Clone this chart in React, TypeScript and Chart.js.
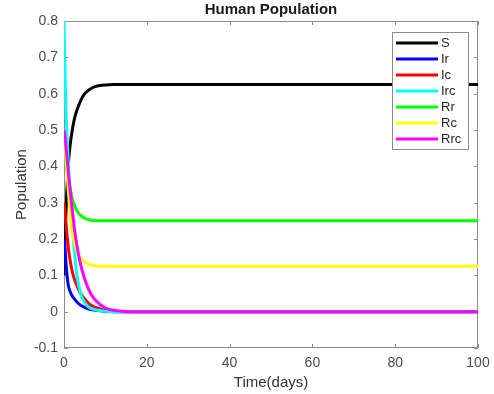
import React, { useEffect, useRef } from 'react';
import { Chart, registerables } from 'chart.js';
Chart.register(...registerables);

const days = [0, 0.25, 0.5, 1, 1.5, 2, 2.5, 3, 4, 5, 6, 7, 8, 10, 12, 14, 16, 20, 30, 40, 50, 60, 70, 80, 90, 100];
const S = [0.1, 0.2, 0.28, 0.4, 0.46, 0.5, 0.53, 0.55, 0.58, 0.6, 0.61, 0.617, 0.621, 0.624, 0.625, 0.625, 0.625, 0.625, 0.625, 0.625, 0.625, 0.625, 0.625, 0.625, 0.625, 0.625];
const Ir = [0.2, 0.17, 0.13, 0.075, 0.055, 0.043, 0.035, 0.028, 0.018, 0.012, 0.007, 0.005, 0.003, 0.001, 0, 0, 0, 0, 0, 0, 0, 0, 0, 0, 0, 0];
const Ic = [0.3, 0.27, 0.24, 0.18, 0.14, 0.11, 0.09, 0.075, 0.05, 0.035, 0.022, 0.015, 0.01, 0.004, 0.001, 0, 0, 0, 0, 0, 0, 0, 0, 0, 0, 0];
const Irc = [0.8, 0.65, 0.55, 0.42, 0.31, 0.23, 0.17, 0.11, 0.05, 0.025, 0.012, 0.007, 0.004, 0.001, 0, 0, 0, 0, 0, 0, 0, 0, 0, 0, 0, 0];
const Rr = [0.45, 0.42, 0.4, 0.37, 0.34, 0.31, 0.295, 0.28, 0.265, 0.257, 0.253, 0.251, 0.25, 0.25, 0.25, 0.25, 0.25, 0.25, 0.25, 0.25, 0.25, 0.25, 0.25, 0.25, 0.25, 0.25];
const Rc = [0.5, 0.46, 0.42, 0.34, 0.27, 0.22, 0.19, 0.17, 0.148, 0.137, 0.131, 0.128, 0.126, 0.125, 0.125, 0.125, 0.125, 0.125, 0.125, 0.125, 0.125, 0.125, 0.125, 0.125, 0.125, 0.125];
const Rrc = [0.5, 0.48, 0.45, 0.39, 0.33, 0.28, 0.23, 0.19, 0.13, 0.09, 0.06, 0.04, 0.027, 0.01, 0.004, 0.001, 0, 0, 0, 0, 0, 0, 0, 0, 0, 0];

const seriesNames = ['S', 'Ir', 'Ic', 'Irc', 'Rr', 'Rc', 'Rrc'];
const seriesValues = [S, Ir, Ic, Irc, Rr, Rc, Rrc];
const seriesColors = ['#000000', '#0000ff', '#ff0000', '#00ffff', '#00ff00', '#ffff00', '#ff00ff'];

const titleText = 'Human Population';
const xTitle = 'Time(days)';
const yTitle = 'Population';

const FONT = '"Liberation Sans", Arial, Helvetica, sans-serif';
const AXIS_COLOR = '#8c8c8c';

const framePlugin = {
  id: 'matlabFrame',
  beforeDatasetsDraw(chart: any) {
    const { ctx, chartArea: a, scales } = chart;
    ctx.save();
    ctx.strokeStyle = AXIS_COLOR;
    ctx.lineWidth = 1;
    ctx.strokeRect(a.left + 0.5, a.top + 0.5, a.right - a.left - 1, a.bottom - a.top - 1);
    const tl = 4;
    ctx.beginPath();
    scales.x.ticks.forEach((t: any) => {
      const px = Math.round(scales.x.getPixelForValue(t.value)) + 0.5;
      ctx.moveTo(px, a.bottom);
      ctx.lineTo(px, a.bottom - tl);
      ctx.moveTo(px, a.top);
      ctx.lineTo(px, a.top + tl);
    });
    scales.y.ticks.forEach((t: any) => {
      const py = Math.round(scales.y.getPixelForValue(t.value)) + 0.5;
      ctx.moveTo(a.left, py);
      ctx.lineTo(a.left + tl, py);
      ctx.moveTo(a.right, py);
      ctx.lineTo(a.right - tl, py);
    });
    ctx.stroke();
    ctx.restore();
  },
  afterDatasetsDraw(chart: any) {
    const { ctx, chartArea: a } = chart;
    ctx.save();
    ctx.fillStyle = '#1a1a1a';
    ctx.font = `bold 15px ${FONT}`;
    ctx.textAlign = 'center';
    ctx.textBaseline = 'middle';
    ctx.fillText(titleText, (a.left + a.right) / 2, 9.5);
    const ds = chart.data.datasets;
    const bx = 392, by = 32, bw = 76, bh = 117;
    ctx.fillStyle = '#ffffff';
    ctx.fillRect(bx, by, bw, bh);
    ctx.strokeStyle = AXIS_COLOR;
    ctx.lineWidth = 1;
    ctx.strokeRect(bx + 0.5, by + 0.5, bw, bh);
    ctx.font = `13px ${FONT}`;
    ctx.textAlign = 'left';
    ctx.textBaseline = 'middle';
    ds.forEach((d: any, i: number) => {
      const y = by + 11 + i * 16;
      ctx.strokeStyle = d.borderColor;
      ctx.lineWidth = 3;
      ctx.beginPath();
      ctx.moveTo(bx + 4, y);
      ctx.lineTo(bx + 46, y);
      ctx.stroke();
      ctx.fillStyle = '#262626';
      ctx.fillText(d.label, bx + 49, y + 0.5);
    });
    ctx.restore();
  },
};

export default function App() {
  const ref = useRef<HTMLCanvasElement>(null);
  useEffect(() => {
    if (!ref.current) return;
    const chart = new Chart(ref.current, {
      type: 'line',
      data: {
        datasets: seriesNames.map((name, i) => ({
          label: name,
          data: days.map((d, j) => ({ x: d, y: seriesValues[i][j] })),
          borderColor: seriesColors[i],
          backgroundColor: seriesColors[i],
          borderWidth: 3,
          pointRadius: 0,
          fill: false,
          cubicInterpolationMode: 'monotone' as const,
          order: seriesNames.length - i,
        })),
      },
      options: {
        animation: false,
        responsive: false,
        maintainAspectRatio: false,
        layout: { padding: { top: 21, right: 16, bottom: 0, left: 0 } },
        plugins: {
          legend: { display: false },
          title: { display: false },
          tooltip: { enabled: false },
        },
        scales: {
          x: {
            type: 'linear',
            min: 0,
            max: 100,
            grid: { display: false, drawTicks: false },
            border: { display: false },
            ticks: {
              stepSize: 20,
              padding: 7,
              color: '#4d4d4d',
              font: { family: FONT, size: 14 },
              maxRotation: 0,
            },
            title: {
              display: true,
              text: xTitle,
              color: '#333333',
              font: { family: FONT, size: 15 },
              padding: { top: 0, bottom: 2 },
            },
            afterFit: (s: any) => { s.height = 46; s.paddingLeft = 0; s.paddingRight = 0; },
          },
          y: {
            type: 'linear',
            min: -0.1,
            max: 0.8,
            grid: { display: false, drawTicks: false },
            border: { display: false },
            ticks: {
              stepSize: 0.1,
              padding: 6,
              color: '#4d4d4d',
              font: { family: FONT, size: 14 },
              callback: (v: any) => (Math.abs(Number(v)) < 1e-9 ? '0' : Number(v).toFixed(1)),
            },
            title: {
              display: true,
              text: yTitle,
              color: '#333333',
              font: { family: FONT, size: 15 },
              padding: { top: 13, bottom: 0 },
            },
            afterFit: (s: any) => { s.width = 64; s.paddingTop = 0; s.paddingBottom = 0; },
          },
        },
      },
      plugins: [framePlugin],
    });
    return () => chart.destroy();
  }, []);
  return (
    <div style={{ position: 'absolute', left: 0, top: 0, width: 494, height: 394, background: '#fff' }}>
      <canvas ref={ref} width={494} height={394} style={{ display: 'block' }} />
    </div>
  );
}
